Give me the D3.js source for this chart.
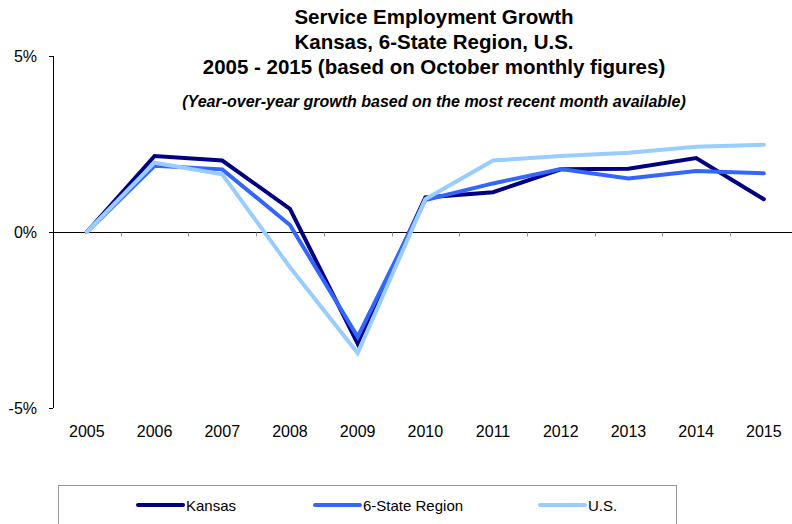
<!DOCTYPE html>
<html>
<head>
<meta charset="utf-8">
<script src="https://cdn.jsdelivr.net/npm/d3@7/dist/d3.min.js"></script>
<style>
  html, body { margin: 0; padding: 0; background: #fff; }
  svg { display: block; font-family: "Liberation Sans", Arial, sans-serif; }
</style>
</head>
<body>
<svg id="chart" width="792" height="524"></svg>
<script>
// Year-over-year service employment growth (%), October figures
const years = ["2005","2006","2007","2008","2009","2010","2011","2012","2013","2014","2015"];
const kansas = [0, 2.16, 2.03, 0.66, -3.17, 0.98, 1.13, 1.78, 1.80, 2.10, 0.93];
const region = [0, 1.88, 1.78, 0.20, -2.98, 0.91, 1.38, 1.79, 1.52, 1.73, 1.67];
const us     = [0, 1.97, 1.64, -1.00, -3.44, 0.93, 2.03, 2.16, 2.25, 2.42, 2.48];
const yTicks = [-5, 0, 5];

const seriesNames  = ["Kansas", "6-State Region", "U.S."];
const seriesValues = [kansas, region, us];
const seriesColors = ["#000080", "#3366ff", "#99ccff"];

const svg = d3.select("#chart");
const left = 53, bandW = 67.7;
const x = d3.scaleBand().domain(years).range([left, left + bandW * years.length]).paddingInner(0).paddingOuter(0);
const y = d3.scaleLinear().domain([-5, 5]).range([408, 56]);
const cx = d => x(d) + x.bandwidth() / 2;

// Titles
const title = svg.append("g").attr("font-weight", "bold").attr("fill", "#000").attr("text-anchor", "middle");
["Service Employment Growth", "Kansas, 6-State Region, U.S.", "2005 - 2015 (based on October monthly figures)"]
  .forEach((t, i) => title.append("text").attr("x", 434).attr("y", 24 + i * 25).attr("font-size", 20.5).text(t));
svg.append("text").attr("x", 434).attr("y", 107).attr("text-anchor", "middle")
  .attr("font-size", 16).attr("font-weight", "bold").attr("font-style", "italic")
  .text("(Year-over-year growth based on the most recent month available)");

// Y axis
svg.append("line").attr("x1", left + 0.5).attr("x2", left + 0.5).attr("y1", y(5)).attr("y2", y(-5)).attr("stroke", "#000");
yTicks.forEach(v => {
  svg.append("line").attr("x1", left - 4).attr("x2", left).attr("y1", Math.round(y(v)) + 0.5).attr("y2", Math.round(y(v)) + 0.5).attr("stroke", "#000");
  svg.append("text").attr("x", 37).attr("y", y(v) + 6).attr("text-anchor", "end").attr("font-size", 16).text(v + "%");
});

// Zero line with category boundary ticks
const y0 = Math.round(y(0)) + 0.5;
svg.append("line").attr("x1", left).attr("x2", 792).attr("y1", y0).attr("y2", y0).attr("stroke", "#000");
years.forEach((yr, i) => {
  if (i === 0) return;
  const tx = Math.round(x(yr)) + 0.5;
  svg.append("line").attr("x1", tx).attr("x2", tx).attr("y1", y0).attr("y2", y0 + 4).attr("stroke", "#999");
});
// Year labels
years.forEach(yr => {
  svg.append("text").attr("x", cx(yr)).attr("y", 437).attr("text-anchor", "middle").attr("font-size", 16).text(yr);
});

// Series lines
const line = d3.line().x((d, i) => cx(years[i])).y(d => y(d));
seriesValues.forEach((vals, k) => {
  svg.append("path").datum(vals).attr("d", line).attr("fill", "none")
    .attr("stroke", seriesColors[k]).attr("stroke-width", 4).attr("stroke-linejoin", "miter")
    .attr("stroke-linecap", "round");
});

// Legend
svg.append("rect").attr("x", 58.5).attr("y", 485.5).attr("width", 618).attr("height", 50)
  .attr("fill", "#fff").attr("stroke", "#999");
const legendX = [138, 315, 540];
seriesNames.forEach((name, k) => {
  svg.append("line").attr("x1", legendX[k]).attr("x2", legendX[k] + 45).attr("y1", 505).attr("y2", 505)
    .attr("stroke", seriesColors[k]).attr("stroke-width", 4).attr("stroke-linecap", "round");
  svg.append("text").attr("x", legendX[k] + 48).attr("y", 510.5).attr("font-size", 15).text(name);
});
</script>
</body>
</html>
